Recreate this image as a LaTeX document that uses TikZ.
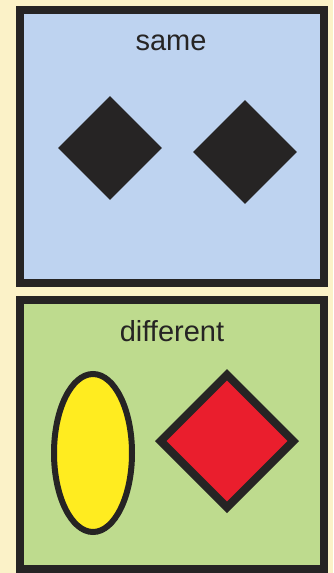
\documentclass[tikz,border=0pt]{standalone}
\usepackage{fontspec}
\setmainfont{Liberation Sans}
\usetikzlibrary{shapes.geometric,positioning}
\definecolor{pagecream} {RGB}{251,242,200}
\definecolor{samebluebg}{RGB}{190,211,240}
\definecolor{diffgreen} {RGB}{190,219,142}
\definecolor{shapeblack}{RGB}{38,36,36}
\definecolor{ovalyellow}{RGB}{255,236,32}
\definecolor{diamondred}{RGB}{234,30,45}
\tikzset{
  panel/.style   ={draw=shapeblack, line width=8pt, minimum width=304pt,
                   inner sep=0pt},
  caption/.style ={font=\fontsize{29}{30}\selectfont, text=shapeblack,
                   inner sep=0pt},
  blackdia/.style={diamond, fill=shapeblack, inner sep=0pt,
                   minimum width=104pt, minimum height=104pt},
}
\begin{document}
\begin{tikzpicture}[x=1pt,y=-1pt]
  \fill[pagecream] (0,0) rectangle (333,573);
  \useasboundingbox (0,0) rectangle (333,573);
  %% top panel
  \node[panel, fill=samebluebg, minimum height=273pt] (same) at (172,146.5) {};
  \node[caption] (sametxt) at (171,43) {same};
  \node[blackdia] (diaA) at (110,148) {};
  \node[blackdia] (diaB) at (245,152) {};
  %% bottom panel
  \node[panel, fill=diffgreen, minimum height=269pt] (diff) at (172,434.5) {};
  \node[caption] (difftxt) at (172,331) {different};
  \node[ellipse, draw=shapeblack, fill=ovalyellow, line width=6pt,
        inner sep=0pt, minimum width=78pt, minimum height=158pt] (oval) at (93,453) {};
  \node[diamond, draw=shapeblack, fill=diamondred, line width=8pt,
        inner sep=0pt, minimum width=136pt, minimum height=136pt] (reddia) at (227,441) {};
\end{tikzpicture}
\end{document}
